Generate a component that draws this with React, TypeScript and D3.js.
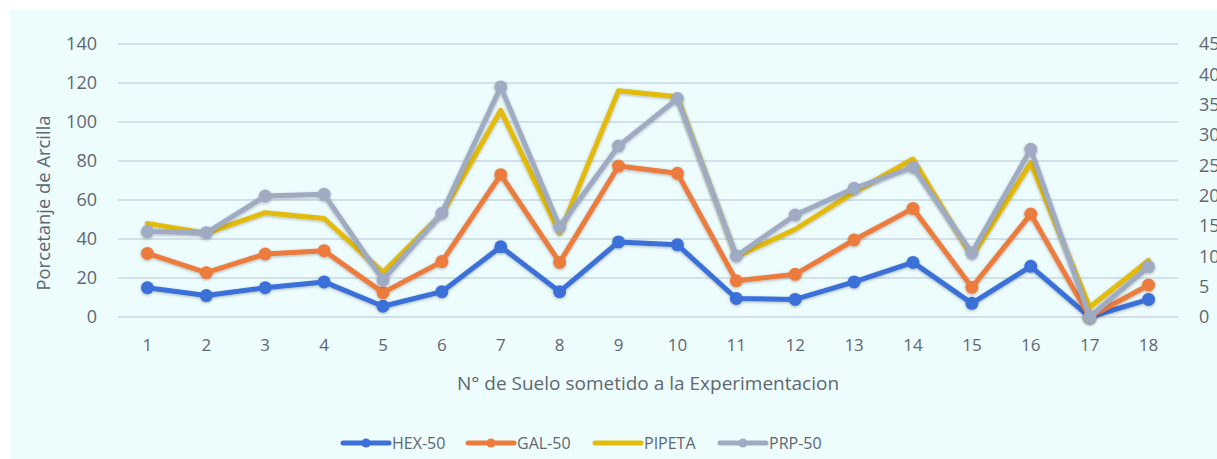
import React from "react";
import * as d3 from "d3";

const categories = ["1","2","3","4","5","6","7","8","9","10","11","12","13","14","15","16","17","18"];
const hex50 = [15, 11, 15, 18, 5.5, 13, 36, 13, 38.5, 37, 9.5, 9, 18, 28, 7, 26, 0, 9];
const gal50 = [32.6, 22.7, 32.3, 34, 12.5, 28.4, 73, 28, 77.4, 73.7, 18.6, 21.9, 39.5, 55.7, 15.2, 52.8, 0, 16.4];
const pipeta = [48, 43, 53.5, 50.5, 23, 53, 106, 43, 116, 113, 31, 45, 64, 81, 31, 79, 5, 29];
const prp50 = [43.8, 43.2, 62, 62.9, 19, 53.2, 118, 46.3, 87.7, 112, 31.3, 52.3, 66, 76.8, 33, 86, 0, 25.8];
const leftTicks = [0, 20, 40, 60, 80, 100, 120, 140];
const rightTicks = [0, 5, 10, 15, 20, 25, 30, 35, 40, 45];

const seriesList = [
  { name: "HEX-50", values: hex50, color: "#3b6fd9", marker: true },
  { name: "GAL-50", values: gal50, color: "#ec7c3c", marker: true },
  { name: "PIPETA", values: pipeta, color: "#e3bb0c", marker: false },
  { name: "PRP-50", values: prp50, color: "#9eabc2", marker: true },
];

const W = 1217, H = 459;
const FONT = "'Open Sans', 'Noto Sans', sans-serif";
const TXT = "#5f6770";

export default function App() {
  const x = d3.scaleBand<string>().domain(categories).range([118, 1178]);
  const y = d3.scaleLinear().domain([0, 140]).range([317, 44]);
  const yR = d3.scaleLinear().domain([0, 45]).range([317, 44]);
  const cx = (c: string) => (x(c) ?? 0) + x.bandwidth() / 2;
  const line = d3.line<number>().x((_, i) => cx(categories[i])).y((d) => y(d));

  const legendX = [343, 468, 595, 720];

  return (
    <svg width={W} height={H} style={{ position: "absolute", left: 0, top: 0, display: "block" }} fontFamily={FONT}>
      <defs>
        <filter id="glow" x="-5%" y="-20%" width="110%" height="140%">
          <feDropShadow dx="0" dy="1" stdDeviation="1.8" floodColor="#000" floodOpacity="0.28" />
        </filter>
      </defs>
      <rect x={0} y={0} width={W} height={H} fill="#ffffff" />
      <rect x={10} y={10} width={W - 10} height={H - 10} fill="#edfcfd" />
      {leftTicks.map((t) => (
        <g key={"l" + t}>
          <line x1={118} x2={1178} y1={y(t)} y2={y(t)} stroke="#c9d8e2" strokeWidth={1.3} />
          <text x={97} y={y(t)} dy="0.35em" textAnchor="end" fontSize={18} fill={TXT}>{t}</text>
        </g>
      ))}
      {rightTicks.map((t) => (
        <text key={"r" + t} x={1199} y={yR(t)} dy="0.35em" textAnchor="start" fontSize={18} fill={TXT}>{t}</text>
      ))}
      {categories.map((c) => (
        <text key={"c" + c} x={cx(c)} y={345} dy="0.35em" textAnchor="middle" fontSize={17} fill={TXT}>{c}</text>
      ))}
      <text x={648} y={383} dy="0.35em" textAnchor="middle" fontSize={19} fill={TXT}>N° de Suelo sometido a la Experimentacion</text>
      <text transform={`translate(44,203) rotate(-90)`} dy="0.35em" textAnchor="middle" fontSize={18.4} fill={TXT}>Porcetanje de Arcilla</text>
      {seriesList.map((s) => (
        <g key={s.name} filter="url(#glow)">
          <path d={line(s.values) ?? ""} fill="none" stroke={s.color} strokeWidth={5} strokeLinejoin="round" strokeLinecap="round" />
          {s.marker && s.values.map((v, i) => (
            <circle key={i} cx={cx(categories[i])} cy={y(v)} r={6.5} fill={s.color} />
          ))}
        </g>
      ))}
      {seriesList.map((s, i) => (
        <g key={"lg" + s.name}>
          <line x1={legendX[i]} x2={legendX[i] + 46} y1={443} y2={443} stroke={s.color} strokeWidth={5} strokeLinecap="round" />
          {s.marker && <circle cx={legendX[i] + 23} cy={443} r={4.5} fill={s.color} />}
          <text x={legendX[i] + 49} y={443} dy="0.35em" fontSize={16} fill={TXT}>{s.name}</text>
        </g>
      ))}
    </svg>
  );
}
